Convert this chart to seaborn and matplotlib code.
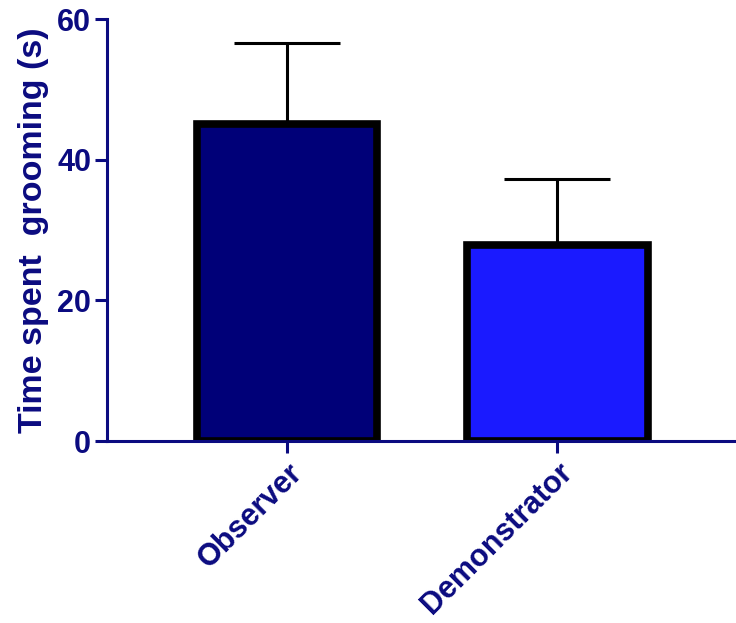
import matplotlib
matplotlib.use("Agg")
import matplotlib.pyplot as plt
import seaborn as sns
import pandas as pd

# Group means and standard deviations (seconds)
groups = ["Observer", "Demonstrator"]
mean_time = [45.1, 27.9]
sd_time = [11.5, 9.3]
bar_colors = ["#000078", "#1a1aff"]
y_ticks = [0, 20, 40, 60]

navy = "#0b0b80"

sns.set_style("ticks")
plt.rcParams["font.family"] = ["Liberation Sans", "DejaVu Sans"]
plt.rcParams["font.weight"] = "bold"

df = pd.DataFrame({"group": groups, "time": mean_time})

fig = plt.figure(figsize=(7.36, 6.23), dpi=100)
ax = fig.add_axes([0.1454, 0.2921, 0.8546, 0.6774])

ax.errorbar(range(len(groups)), mean_time, yerr=[[0] * len(groups), sd_time],
            fmt="none", ecolor="black", elinewidth=2.2, capsize=38,
            capthick=2.2, zorder=1)

sns.barplot(data=df, x="group", y="time", hue="group", palette=bar_colors,
            order=groups, hue_order=groups, legend=False, errorbar=None,
            width=0.667, saturation=1, edgecolor="black", linewidth=5.5,
            ax=ax, zorder=2)

ax.set_xlim(-0.665, 1.66)
ax.set_ylim(0, 60)
ax.set_yticks(y_ticks)

for side in ("top", "right"):
    ax.spines[side].set_visible(False)
for side in ("left", "bottom"):
    ax.spines[side].set_color(navy)
    ax.spines[side].set_linewidth(2.2)
    ax.spines[side].set_zorder(3)

ax.tick_params(axis="both", colors=navy, width=2.2, length=8.5,
               labelsize=22, labelcolor=navy)
ax.tick_params(axis="y", pad=3)
ax.set_xlabel("")
ax.set_ylabel("Time spent  grooming (s)", fontsize=24.5, fontweight="bold",
              color=navy, labelpad=6)
plt.setp(ax.get_xticklabels(), rotation=45, ha="right",
         rotation_mode="anchor", fontweight="bold")
plt.setp(ax.get_yticklabels(), fontweight="bold")

fig.savefig("out.png", dpi=100)
